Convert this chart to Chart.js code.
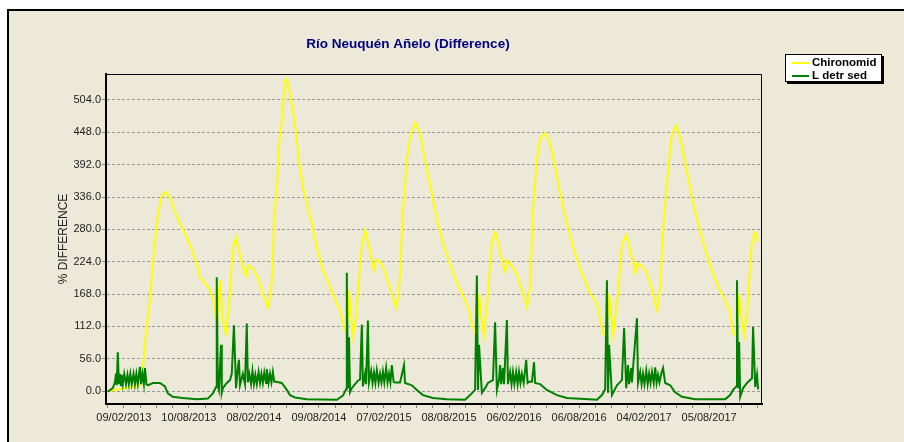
<!DOCTYPE html>
<html>
<head>
<meta charset="utf-8">
<script src="https://cdn.jsdelivr.net/npm/chart.js@4.4.0/dist/chart.umd.min.js"></script>
<style>
  html, body { margin: 0; padding: 0; background: #fff; }
  #wrap { width: 904px; height: 442px; }
</style>
</head>
<body>
<div id="wrap"><canvas id="chart" width="904" height="442"></canvas></div>
<script>
const chartTitle = "Río Neuquén Añelo (Difference)";
const seriesNames = ["Chironomid", "L detr sed"];
const yTitle = "% DIFFERENCE";
const xTickLabels = ["09/02/2013", "10/08/2013", "08/02/2014", "09/08/2014", "07/02/2015",
  "08/08/2015", "06/02/2016", "06/08/2016", "04/02/2017", "05/08/2017"];
const yTicks = [0, 56, 112, 168, 224, 280, 336, 392, 448, 504];

// x values are days counted from 09/02/2013
const chironomidDays = [-45,-25,3,31,45,53,62,73,84,95,106,118,129,143,157,174,190,204,213,227,241,249,255,258,260,266,269,274,280,286,294,300,305,314,319,328,333,342,347,361,375,389,403,412,417,420,428,434,442,451,456,462,473,482,490,501,512,526,540,557,577,596,605,616,624,630,636,641,650,655,666,675,683,694,700,706,720,734,748,762,770,773,781,792,801,815,829,843,862,876,893,921,946,963,977,986,994,1000,1008,1019,1030,1039,1047,1058,1067,1072,1089,1103,1117,1128,1137,1145,1156,1165,1179,1193,1207,1221,1240,1257,1282,1305,1324,1341,1350,1358,1364,1369,1383,1394,1406,1417,1431,1436,1453,1464,1478,1492,1501,1509,1520,1534,1546,1557,1571,1590,1607,1627,1646,1663,1683,1697,1705,1714,1722,1728,1736,1744,1753,1758,1767,1775];
const chironomidValues = [0,2,5,8,10,40,100,160,240,305,338,345,335,310,290,268,245,220,197,187,175,160,145,120,105,170,192,150,110,100,150,200,249,266,249,228,214,200,218,212,195,169,145,175,226,296,353,422,468,537,541,525,486,446,399,353,325,290,249,209,180,152,140,110,98,175,130,95,130,170,255,278,258,226,210,228,222,200,172,145,175,205,313,400,440,465,447,399,342,296,256,204,169,145,111,95,169,130,97,169,261,275,257,226,206,226,214,197,169,145,180,313,400,439,447,428,387,342,290,249,204,169,152,100,95,169,130,97,169,256,270,244,204,221,215,204,175,140,180,278,365,446,460,439,394,335,290,244,209,180,157,135,100,95,169,130,97,135,221,261,275,257];

const detritusDays = [-45,-36,-31,-25,-22,-20,-17,-14,-11,-8,-6,-3,1,6,10,14,18,22,27,31,35,39,45,48,52,56,59,63,67,81,101,115,123,137,165,204,235,249,258,260,263,266,272,274,277,288,297,302,308,314,319,322,325,333,339,344,347,351,356,360,364,368,372,377,381,385,389,393,398,400,405,409,413,417,421,426,442,456,465,479,512,596,613,622,624,627,630,633,638,647,655,661,666,669,675,678,683,686,692,696,700,704,708,713,717,721,725,729,734,738,742,746,750,755,759,773,784,787,806,820,837,865,904,955,969,983,988,991,994,1002,1011,1019,1033,1039,1044,1050,1053,1056,1061,1064,1072,1075,1081,1085,1089,1093,1098,1102,1106,1110,1114,1119,1126,1130,1134,1142,1148,1151,1165,1184,1212,1240,1324,1338,1347,1352,1355,1358,1366,1380,1394,1400,1406,1411,1414,1420,1422,1436,1439,1445,1449,1453,1457,1462,1466,1470,1474,1478,1483,1487,1491,1495,1499,1504,1509,1515,1529,1543,1562,1599,1683,1697,1705,1714,1716,1719,1722,1725,1733,1744,1758,1761,1767,1772,1775];
const detritusValues = [-1,3,5,15,30,10,67,12,30,10,28,12,30,12,28,12,30,12,30,12,30,12,42,12,30,12,40,12,10,14,14,8,-4,-10,-12,-14,-13,-4,7,197,10,2,80,-3,5,14,19,30,114,5,40,54,10,30,12,117,15,30,12,35,12,28,12,33,14,30,14,32,14,38,14,30,15,33,16,16,14,2,-7,-11,-14,-15,-8,3,205,5,93,-2,5,12,18,20,115,8,30,12,122,15,35,14,32,14,36,14,30,15,34,15,40,15,30,15,45,16,15,15,45,14,10,2,-7,-12,-14,-15,-7,2,200,2,80,-3,5,14,19,119,2,20,45,12,40,12,123,12,33,12,33,12,33,12,33,14,30,14,54,14,16,16,50,14,12,2,-7,-12,-15,-7,3,192,-3,80,-7,10,19,109,5,45,12,40,15,126,14,33,12,30,12,35,12,30,14,33,14,41,14,28,15,30,40,14,10,-2,-10,-14,-14,-7,2,8,192,5,85,-10,5,14,22,111,7,28,3];

const xMin = -50, xMax = 1786;
const yMin = -22.4, yMax = 549;

function toDays(s) {
  const p = s.split("/").map(Number);
  return Math.round((Date.UTC(p[2], p[1] - 1, p[0]) - Date.UTC(2013, 1, 9)) / 86400000);
}
const majorDays = xTickLabels.map(toDays);
const minorStep = (majorDays[1] - majorDays[0]) / 4;

const font = '"Liberation Sans", Arial, sans-serif';

const framePlugin = {
  id: "frame",
  beforeDraw(chart) {
    const { ctx, width, height } = chart;
    ctx.save();
    ctx.fillStyle = "#fff";
    ctx.fillRect(0, 0, width, height);
    ctx.fillStyle = "#ECE9D8";
    ctx.fillRect(8, 10, width - 8, height - 10);
    ctx.strokeStyle = "#000";
    ctx.lineWidth = 2;
    ctx.beginPath();
    ctx.moveTo(8, height);
    ctx.lineTo(8, 10);
    ctx.lineTo(width, 10);
    ctx.stroke();
    ctx.restore();
  },
  afterDraw(chart) {
    const { ctx, chartArea: a } = chart;
    ctx.save();
    ctx.strokeStyle = "#000";
    ctx.lineWidth = 1;
    ctx.beginPath();
    ctx.moveTo(a.left, a.top + 0.5);
    ctx.lineTo(a.right - 0.5, a.top + 0.5);
    ctx.lineTo(a.right - 0.5, a.bottom);
    ctx.stroke();

    // title
    ctx.fillStyle = "#000080";
    ctx.font = "bold 13.5px " + font;
    ctx.textAlign = "center";
    ctx.textBaseline = "middle";
    ctx.fillText(chartTitle, 408, 44);

    // legend
    ctx.fillStyle = "#000";
    ctx.fillRect(787, 56, 97, 28);
    ctx.fillStyle = "#fff";
    ctx.fillRect(785, 54, 97, 28);
    ctx.strokeRect(785.5, 54.5, 96, 27);
    const colors = ["#FFFF00", "#008000"];
    ctx.font = "bold 11.5px " + font;
    ctx.textAlign = "left";
    seriesNames.forEach((name, i) => {
      const y = 63 + i * 13;
      ctx.strokeStyle = colors[i];
      ctx.lineWidth = 2;
      ctx.beginPath();
      ctx.moveTo(792, y);
      ctx.lineTo(809, y);
      ctx.stroke();
      ctx.fillStyle = "#000";
      ctx.fillText(name, 812, y);
    });
    ctx.restore();
  }
};

new Chart(document.getElementById("chart"), {
  type: "line",
  data: {
    datasets: [
      {
        label: seriesNames[0],
        data: chironomidDays.map((d, i) => ({ x: d, y: chironomidValues[i] })),
        borderColor: "#FFFF00",
        borderWidth: 2,
        pointRadius: 0,
        tension: 0,
        order: 1
      },
      {
        label: seriesNames[1],
        data: detritusDays.map((d, i) => ({ x: d, y: detritusValues[i] })),
        borderColor: "#008000",
        borderWidth: 2,
        pointRadius: 0,
        tension: 0,
        order: 0
      }
    ]
  },
  options: {
    responsive: false,
    animation: false,
    devicePixelRatio: 1,
    layout: { padding: { left: 0, top: 74, right: 142, bottom: 0 } },
    plugins: { legend: { display: false }, title: { display: false }, tooltip: { enabled: false } },
    scales: {
      x: {
        type: "linear",
        min: xMin,
        max: xMax,
        afterFit(scale) { scale.height = 38; },
        afterBuildTicks(scale) {
          const ticks = [];
          for (let k = Math.ceil(xMin / minorStep); k * minorStep <= xMax; k++) {
            ticks.push({ value: k * minorStep });
          }
          scale.ticks = ticks;
        },
        ticks: {
          autoSkip: false,
          maxRotation: 0,
          minRotation: 0,
          padding: 3,
          color: "#222",
          font: { family: font, size: 11 },
          callback(value) {
            const i = majorDays.findIndex(d => Math.abs(d - value) < 1);
            return i >= 0 ? xTickLabels[i] : "";
          }
        },
        grid: { drawOnChartArea: false, drawTicks: true, tickLength: 4, tickColor: "#888" },
        border: { display: true, color: "#000", width: 2 }
      },
      y: {
        min: yMin,
        max: yMax,
        afterFit(scale) { scale.width = 106; },
        afterBuildTicks(scale) { scale.ticks = yTicks.map(v => ({ value: v })); },
        ticks: {
          padding: 1,
          color: "#222",
          font: { family: font, size: 11 },
          callback: v => Number(v).toFixed(1)
        },
        grid: { color: "#999", lineWidth: 1, tickLength: 4, tickColor: "#888" },
        border: { display: true, color: "#000", width: 2, dash: [3, 2] },
        title: {
          display: true,
          text: yTitle,
          color: "#222",
          font: { family: font, size: 12 },
          padding: { top: 56, bottom: 0 }
        }
      }
    }
  },
  plugins: [framePlugin]
});
</script>
</body>
</html>
